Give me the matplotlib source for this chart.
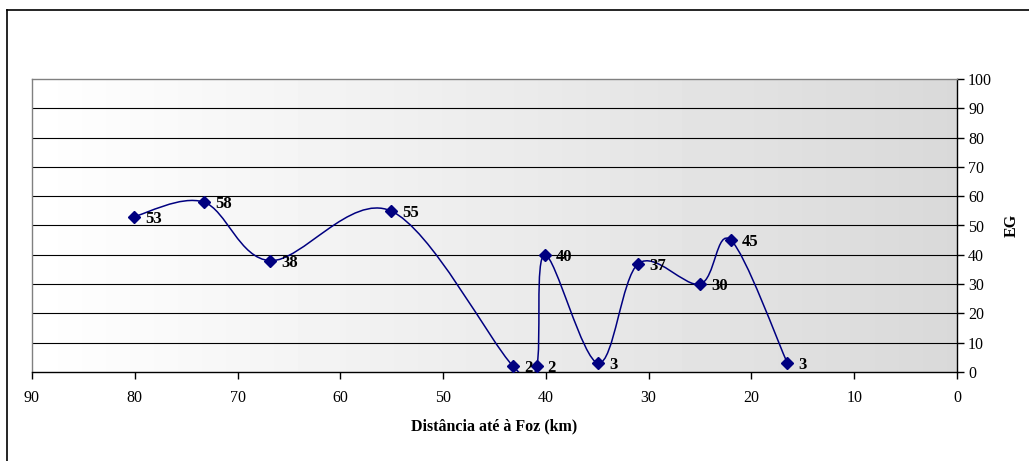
import matplotlib.pyplot as plt
import numpy as np
from matplotlib.path import Path
from matplotlib.patches import PathPatch

# dados: distancia ate a foz (km) e EG
distancia = [80.1, 73.3, 66.8, 55.1, 43.2, 40.9, 40.1, 34.9, 31.0, 25.0, 22.0, 16.5]
eg = [53, 58, 38, 55, 2, 2, 40, 3, 37, 30, 45, 3]
rotulos = ['53', '58', '38', '55', '2', '2', '40', '3', '37', '30', '45', '3']

plt.rcParams['font.family'] = ['Liberation Serif', 'DejaVu Serif']

fig = plt.figure(figsize=(10.29, 4.61), dpi=100)
W, H = 1029, 461
ax = fig.add_axes([32 / W, 1 - 372 / H, (957 - 32) / W, (372 - 79) / H])

ax.set_xlim(90, 0)
ax.set_ylim(0, 100)

# fundo em gradiente (branco -> cinzento)
grad = np.linspace(0, 1, 256).reshape(1, -1)
cinza = 1 - grad * (1 - 0.85)
ax.imshow(cinza, extent=[90, 0, 0, 100], aspect='auto', cmap='gray',
          vmin=0, vmax=1, zorder=0, interpolation='bicubic')

# grelha
for v in range(10, 100, 10):
    ax.axhline(v, color='black', lw=0.8, zorder=1)

# curva suavizada (bezier tipo Excel)
pts = np.column_stack([distancia, eg]).astype(float)
n = len(pts)
verts = [pts[0]]
codes = [Path.MOVETO]
for i in range(n - 1):
    p0 = pts[i - 1] if i > 0 else pts[i]
    p1 = pts[i]
    p2 = pts[i + 1]
    p3 = pts[i + 2] if i + 2 < n else pts[i + 1]
    c1 = p1 + (p2 - p0) / 6
    c2 = p2 - (p3 - p1) / 6
    verts += [c1, c2, p2]
    codes += [Path.CURVE4] * 3
curva = PathPatch(Path(verts, codes), facecolor='none', edgecolor='#000080',
                  lw=1.1, zorder=3)
ax.add_patch(curva)

ax.plot(distancia, eg, linestyle='none', marker='D', markersize=6.5,
        color='#000080', zorder=4)

for x, y, t in zip(distancia, eg, rotulos):
    ax.annotate(t, (x, y), xytext=(8, -1.5), textcoords='offset points',
                ha='left', va='center', fontsize=12, fontweight='bold', zorder=5)

# eixos
ax.spines['left'].set_color('#808080')
ax.spines['top'].set_color('#808080')
ax.spines['right'].set_color('black')
ax.spines['bottom'].set_color('black')
for s in ax.spines.values():
    s.set_linewidth(1)

ax.yaxis.tick_right()
ax.yaxis.set_label_position('right')
ax.set_xticks(range(90, -1, -10))
ax.set_yticks(range(0, 101, 10))
ax.tick_params(axis='x', direction='out', length=5, width=1, labelsize=11.5, pad=8)
ax.tick_params(axis='y', direction='out', length=5, width=1, labelsize=11.5, pad=3)
ax.tick_params(axis='y', left=False)

ax.set_xlabel('Distância até à Foz (km)', fontsize=11.5, fontweight='bold', labelpad=9)
ax.set_ylabel('EG', fontsize=11.5, fontweight='bold', labelpad=8)

# moldura exterior
fig.add_artist(plt.Line2D([7 / W, 7 / W], [0, 1 - 10 / H], color='black', lw=1.2))
fig.add_artist(plt.Line2D([7 / W, 1], [1 - 10 / H, 1 - 10 / H], color='black', lw=1.2))

plt.savefig('out.png', dpi=100)
